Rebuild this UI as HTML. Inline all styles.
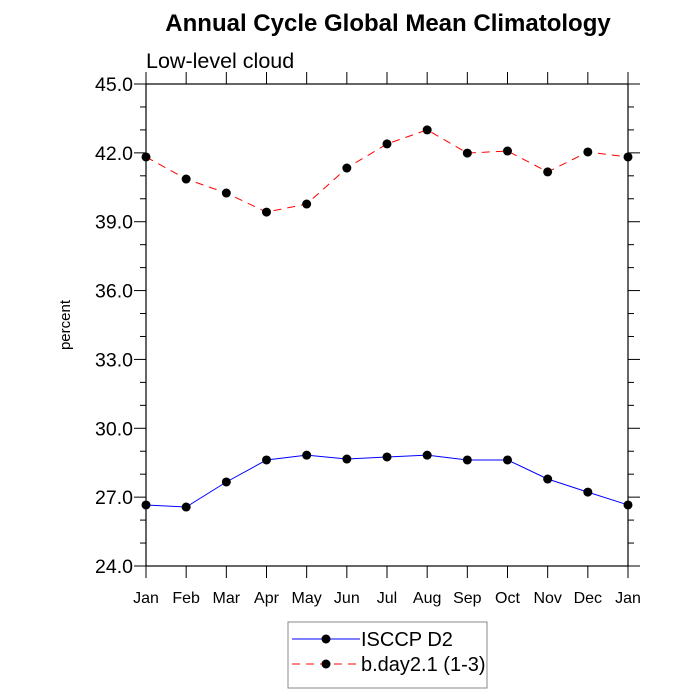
<!DOCTYPE html>
<html><head><meta charset="utf-8"><style>body{margin:0;background:#fff}svg{display:block}</style></head>
<body>
<svg id="c" width="700" height="700" xmlns="http://www.w3.org/2000/svg" font-family="Liberation Sans, Arial, sans-serif">
<text x="388" y="31" text-anchor="middle" font-size="24" font-weight="bold">Annual Cycle Global Mean Climatology</text>
<text x="146" y="68" font-size="21.5">Low-level cloud</text>
<text x="70" y="325" font-size="15" text-anchor="middle" transform="rotate(-90 70 325)">percent</text>
<g id="axes"></g><g id="series"></g>
<rect x="288" y="622" width="199" height="66" fill="none" stroke="#888"/>
<g>
<line x1="292" y1="639" x2="360" y2="639" stroke="#0000ff"/><circle cx="326" cy="639" r="4.5"/>
<text x="361" y="646" font-size="20">ISCCP D2</text></g>
<g>
<line x1="292" y1="664" x2="360" y2="664" stroke="#ff0000" stroke-dasharray="8,6"/><circle cx="326" cy="664" r="4.5"/>
<text x="361" y="671" font-size="20">b.day2.1 (1-3)</text></g>
</svg>
<script>
const months=["Jan","Feb","Mar","Apr","May","Jun","Jul","Aug","Sep","Oct","Nov","Dec","Jan"];
const isccp=[26.66,26.57,27.66,28.62,28.83,28.66,28.75,28.83,28.62,28.62,27.79,27.22,26.66];
const bday=[41.82,40.86,40.25,39.42,39.77,41.34,42.39,43.0,41.99,42.08,41.17,42.04,41.82];
const yTicks=[24,27,30,33,36,39,42,45];
const NS="http://www.w3.org/2000/svg";
const L=146,R=628,T=84,B=566,ymin=24,ymax=45;
const xs=i=>L+(R-L)*i/(months.length-1);
const ys=v=>B-(v-ymin)/(ymax-ymin)*(B-T);
function mk(t,a,p){const e=document.createElementNS(NS,t);for(const k in a)e.setAttribute(k,a[k]);p.appendChild(e);return e;}
const ax=document.getElementById('axes');
const fr=mk('rect',{x:L,y:T,width:R-L,height:B-T,fill:'none',stroke:'#000','stroke-width':1.2},ax);


for(let v=ymin;v<=ymax;v+=1){const y=ys(v);const maj=(v-ymin)%3===0;const l=maj?12:6;
 mk('line',{x1:L-l,y1:y,x2:L,y2:y,stroke:'#000'},ax);mk('line',{x1:R,y1:y,x2:R+l,y2:y,stroke:'#000'},ax);}
yTicks.forEach(v=>{const t=mk('text',{x:L-13,y:ys(v)+7,'text-anchor':'end','font-size':19.5},ax);t.textContent=v.toFixed(1);
 
 });
months.forEach((m,i)=>{const x=xs(i);mk('line',{x1:x,y1:B,x2:x,y2:B+12,stroke:'#000'},ax);mk('line',{x1:x,y1:T-12,x2:x,y2:T,stroke:'#000'},ax);
 const t=mk('text',{x:x,y:B+37,'text-anchor':'middle','font-size':16},ax);t.textContent=m;
 
 });
const sg=document.getElementById('series');
function series(d,col,dash,name){const g=mk('g',{},sg);
 
 
 const pts=d.map((v,i)=>xs(i)+','+ys(v)).join(' ');
 const a={points:pts,fill:'none',stroke:col,'stroke-width':1};if(dash)a['stroke-dasharray']=dash;mk('polyline',a,g);
 d.forEach((v,i)=>{const c=mk('circle',{cx:xs(i),cy:ys(v),r:4.5},g);
  
  });}
series(isccp,'#0000ff',null,'series-isccp-d2');
series(bday,'#ff0000','8,6','series-bday');
</script>
</body></html>
